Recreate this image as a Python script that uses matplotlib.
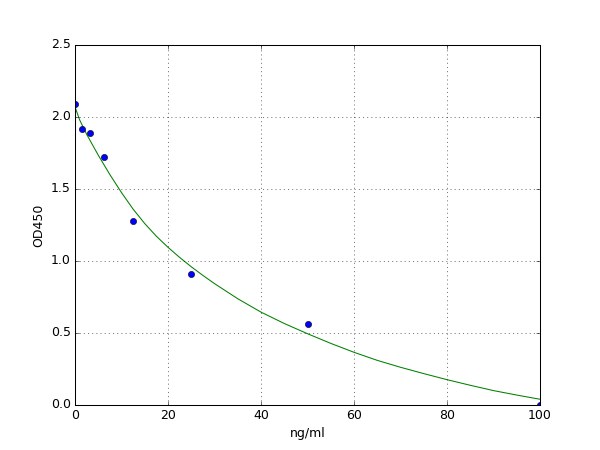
import matplotlib
matplotlib.use("Agg")
import matplotlib.pyplot as plt

# standard points (concentration, OD)
conc = [0, 1.56, 3.125, 6.25, 12.5, 25, 50, 100]
od = [2.09, 1.92, 1.89, 1.72, 1.275, 0.907, 0.565, 0.0]

# fitted curve
fit_x = [0, 1, 2.5, 5, 7.5, 10, 12.5, 15, 17.5, 20, 22.5, 25, 27.5, 30, 35, 40, 45,
         50, 55, 60, 65, 70, 75, 80, 85, 90, 95, 100]
fit_y = [2.07, 1.98, 1.88, 1.735, 1.60, 1.475, 1.36, 1.26, 1.172, 1.095, 1.025, 0.96,
         0.90, 0.843, 0.738, 0.645, 0.566, 0.495, 0.428, 0.366, 0.31, 0.262, 0.218,
         0.176, 0.137, 0.10, 0.069, 0.04]

plt.style.use("classic")
fig, ax = plt.subplots(figsize=(8, 6), dpi=75)
ax.plot(fit_x, fit_y, color="green", linewidth=1)
ax.plot(conc, od, "bo", markersize=6)

ax.set_xlim(0, 100)
ax.set_ylim(0, 2.5)
ax.set_xlabel("ng/ml")
ax.set_ylabel("OD450")
ax.grid(True)

plt.savefig("out.png", dpi=75)
plt.close()
